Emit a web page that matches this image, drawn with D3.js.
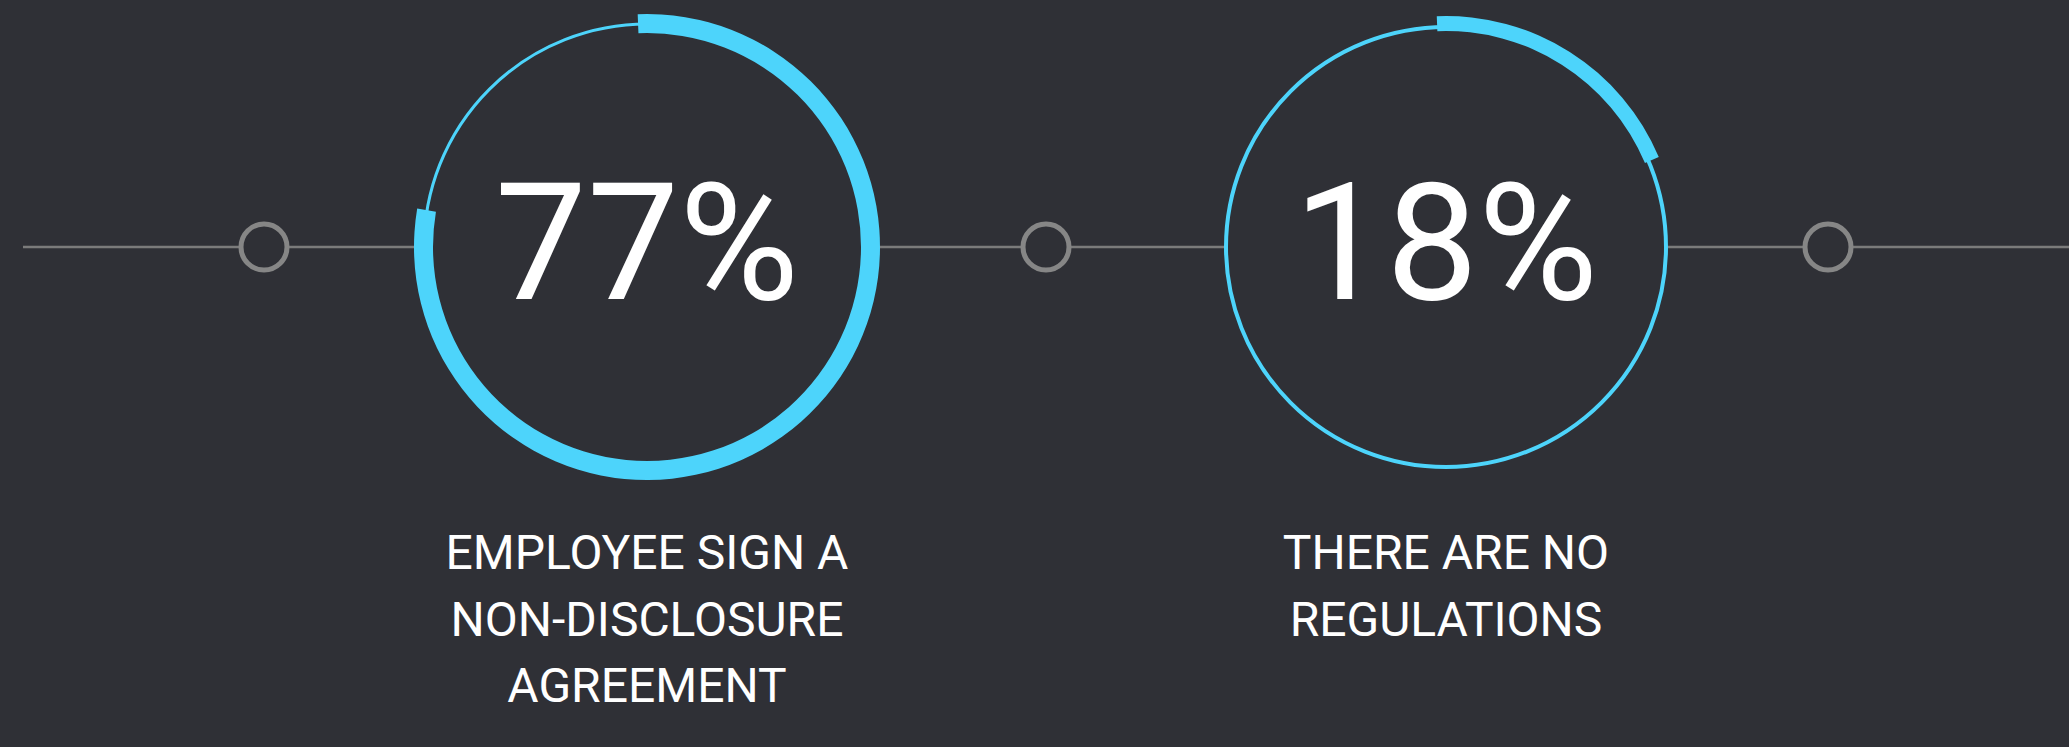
<!DOCTYPE html>
<html>
<head>
<meta charset="utf-8">
<script src="https://cdn.jsdelivr.net/npm/d3@7"></script>
<style>
  html, body { margin: 0; padding: 0; background: #2f3036; }
  svg { display: block; }
</style>
</head>
<body>
<script>
// data
var percents = [77, 18];
var labels = [
  ['EMPLOYEE SIGN A', 'NON-DISCLOSURE', 'AGREEMENT'],
  ['THERE ARE NO', 'REGULATIONS']
];
var stops = ['a', 'b', 'c'];

// dimensions
var w = 2069, h = 747;
var cy = 247;

// colors
var bg = '#2f3036';
var accent = '#4dd4fb';
var gray = '#868686';

// ring styles per gauge
var thinRadius = [223, 220];
var thinWidth = [3, 4];
var thickInner = [214, 216];
var thickOuter = [233, 231];

var svg = d3.select('body').append('svg')
            .attr('width', w)
            .attr('height', h);

svg.append('rect')
   .attr('width', w)
   .attr('height', h)
   .attr('fill', bg);

// scales for the timeline stops and the gauges
var stopScale = d3.scaleLinear().domain([0, stops.length - 1]).range([264, 1828]);
var gaugeScale = d3.scalePoint().domain(d3.range(percents.length)).range([647, 1446]);
var angle = d3.scaleLinear().domain([0, 100]).range([0, 2 * Math.PI]);

// horizontal line
svg.append('line')
   .attr('x1', 23)
   .attr('x2', w)
   .attr('y1', cy)
   .attr('y2', cy)
   .attr('stroke', '#7b7b7b')
   .attr('stroke-width', 2.5);

// small stop circles
svg.selectAll('.stop')
   .data(stops)
   .enter()
   .append('circle')
   .attr('class', 'stop')
   .attr('cx', function(d, i) { return stopScale(i); })
   .attr('cy', cy)
   .attr('r', 23)
   .attr('fill', bg)
   .attr('stroke', gray)
   .attr('stroke-width', 5);

// gauges
var gauges = svg.selectAll('.gauge')
                .data(percents)
                .enter()
                .append('g')
                .attr('class', 'gauge')
                .attr('transform', function(d, i) {
                  return 'translate(' + gaugeScale(i) + ',' + cy + ')';
                });

gauges.append('circle')
      .attr('r', function(d, i) { return thinRadius[i]; })
      .attr('fill', bg)
      .attr('stroke', accent)
      .attr('stroke-width', function(d, i) { return thinWidth[i]; });

var pad = 0.04;
gauges.append('path')
      .attr('fill', accent)
      .attr('d', function(d, i) {
        return d3.arc()
                 .innerRadius(thickInner[i])
                 .outerRadius(thickOuter[i])
                 .startAngle(-pad)
                 .endAngle(angle(d) + pad)();
      });

gauges.append('text')
      .attr('text-anchor', 'middle')
      .attr('y', 52)
      .attr('fill', '#ffffff')
      .style('font-family', 'Roboto, sans-serif')
      .style('font-weight', 400)
      .style('font-size', '164px')
      .text(function(d) { return d + '%'; });

// labels under the gauges
var labelGroups = svg.selectAll('.label')
                     .data(labels)
                     .enter()
                     .append('text')
                     .attr('class', 'label')
                     .attr('text-anchor', 'middle')
                     .attr('fill', '#ffffff')
                     .style('font-family', 'Roboto, sans-serif')
                     .style('font-size', '48px');

labelGroups.selectAll('tspan')
           .data(function(d, i) { return d.map(function(t) { return {t: t, i: i}; }); })
           .enter()
           .append('tspan')
           .attr('x', function(d) { return gaugeScale(d.i); })
           .attr('y', function(d, j) { return 569 + j * 66.5; })
           .text(function(d) { return d.t; });
</script>
</body>
</html>
